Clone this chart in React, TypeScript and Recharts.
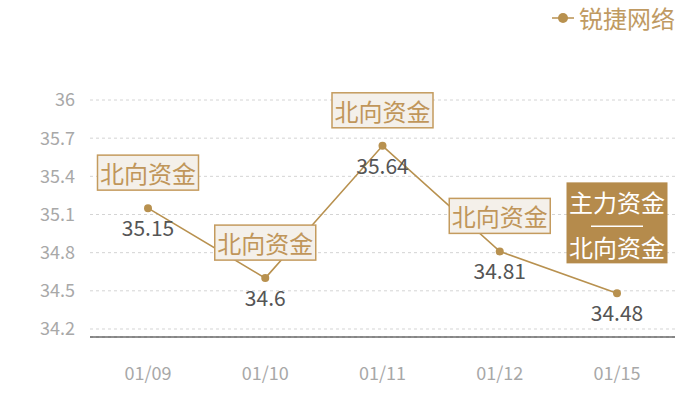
import { LineChart, Line, XAxis, YAxis, CartesianGrid, LabelList } from "recharts";

const dates = ["01/09", "01/10", "01/11", "01/12", "01/15"];
const prices = [35.15, 34.6, 35.64, 34.81, 34.48];
const tags = [
  ["北向资金"],
  ["北向资金"],
  ["北向资金"],
  ["北向资金"],
  ["主力资金", "北向资金"],
];
const yTicks = [34.2, 34.5, 34.8, 35.1, 35.4, 35.7, 36];
const seriesName = "锐捷网络";

const data = dates.map((date, i) => ({ date, price: prices[i] }));

const GOLD = "#b8914f";
const FONT = "'Noto Sans CJK SC', 'Noto Sans', sans-serif";

function TagBox(props: any) {
  const vb = props.viewBox ?? {};
  const cx = props.x ?? vb.x;
  const cy = props.y ?? vb.y;
  const lines = tags[props.index] ?? [];
  const w = 101;

  if (lines.length > 1) {
    const h = 81;
    const top = cy - 30 - h;
    return (
      <g>
        <rect x={cx - w / 2} y={top} width={w} height={h} fill="#b58b4c" />
        <text x={cx} y={top + 19} textAnchor="middle" dominantBaseline="central"
          fill="#fff" fontSize={24} fontFamily={FONT}>{lines[0]}</text>
        <line x1={cx - 26} x2={cx + 26} y1={top + 44} y2={top + 44} stroke="#fff" strokeWidth={1.5} />
        <text x={cx} y={top + 64} textAnchor="middle" dominantBaseline="central"
          fill="#fff" fontSize={24} fontFamily={FONT}>{lines[1]}</text>
      </g>
    );
  }

  const h = 35;
  const top = cy - 18 - h;
  return (
    <g>
      <rect x={cx - w / 2} y={top} width={w} height={h} fill="#f4f0ea" stroke="#c49b5e" strokeWidth={1.5} />
      <text x={cx} y={top + h / 2} textAnchor="middle" dominantBaseline="central"
        fill="#c0965a" fontSize={24} fontFamily={FONT}>{lines[0]}</text>
    </g>
  );
}

export default function App() {
  return (
    <div style={{ position: "absolute", left: 0, top: 0, width: 700, height: 400, background: "#fff", fontFamily: FONT }}>
      <div style={{ position: "absolute", right: 25, top: 3, display: "flex", alignItems: "center", zIndex: 2 }}>
        <svg width={22} height={12} style={{ marginRight: 5 }}>
          <line x1={0} x2={22} y1={6} y2={6} stroke={GOLD} strokeWidth={1.5} />
          <circle cx={11} cy={6} r={5} fill={GOLD} />
        </svg>
        <span style={{ color: "#c09a62", fontSize: 24, lineHeight: "30px" }}>{seriesName}</span>
      </div>
      <LineChart width={700} height={400} data={data} margin={{ top: 100, right: 25, bottom: 13, left: 0 }}>
        <CartesianGrid vertical={false} stroke="#d4d4d4" strokeDasharray="3 3" />
        <XAxis
          dataKey="date"
          height={50}
          padding={{ left: 58, right: 58 }}
          axisLine={{ stroke: "#222", strokeWidth: 1 }}
          tickLine={false}
          tickMargin={24}
          tick={{ fill: "#a8a8a8", fontSize: 18, fontFamily: FONT }}
        />
        <YAxis
          width={90}
          domain={[34.137, 36]}
          ticks={yTicks}
          axisLine={false}
          tickLine={false}
          tickMargin={9}
          tick={{ fill: "#a8a8a8", fontSize: 18, fontFamily: FONT }}
        />
        <Line
          dataKey="price"
          type="linear"
          stroke={GOLD}
          strokeWidth={1.6}
          dot={{ r: 4, fill: GOLD, stroke: GOLD, strokeWidth: 0 }}
          isAnimationActive={false}
        >
          <LabelList dataKey="price" position="bottom" offset={13} fill="#555" fontSize={21} fontFamily={FONT} />
          <LabelList dataKey="price" content={TagBox} />
        </Line>
      </LineChart>
    </div>
  );
}
